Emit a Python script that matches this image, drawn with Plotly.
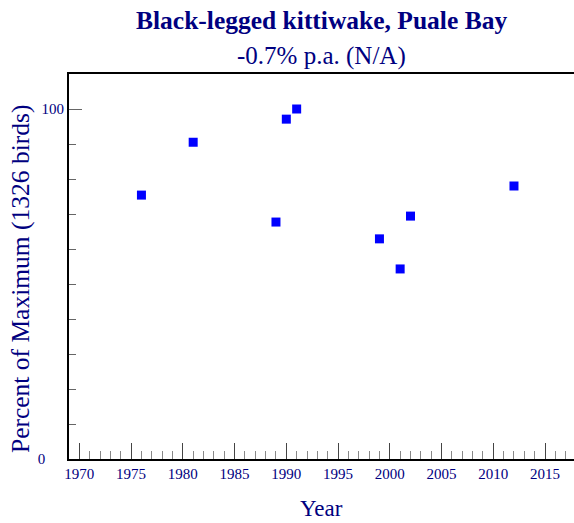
import plotly.graph_objects as go

years = [1976, 1981, 1989, 1990, 1991, 1999, 2001, 2002, 2012]
percent_of_max = [75.4, 90.5, 67.7, 97.1, 100.0, 62.9, 54.3, 69.4, 78.0]
title_text = "Black-legged kittiwake, Puale Bay"
subtitle_text = "-0.7% p.a. (N/A)"
y_title = "Percent of Maximum (1326 birds)"
x_title = "Year"
y_tickvals = [0, 100]
y_ticktext = ["0\u00a0\u00a0\u00a0\u00a0\u00a0", "100"]

NAVY = "#000080"
SERIF = "Liberation Serif, Times New Roman, serif"

fig = go.Figure()
fig.add_trace(go.Scatter(
    x=years, y=percent_of_max, mode="markers",
    marker=dict(symbol="square", size=9, color="#0000ff", line=dict(width=0)),
    showlegend=False, hoverinfo="x+y",
))

fig.update_layout(
    width=574, height=523,
    margin=dict(l=69, r=0, t=74, b=64),
    paper_bgcolor="white", plot_bgcolor="white",
    font=dict(family=SERIF, color=NAVY),
    xaxis=dict(
        range=[1969.0, 2017.8], showgrid=False, zeroline=False,
        showline=True, linecolor="black", linewidth=2, mirror=True,
        tickmode="linear", tick0=1970, dtick=5,
        ticks="inside", ticklen=16, tickwidth=1, tickcolor="#444",
        tickfont=dict(family=SERIF, size=15, color=NAVY),
        minor=dict(tickmode="linear", tick0=1970, dtick=1, ticks="inside",
                   ticklen=8, tickwidth=1, tickcolor="#888"),
    ),
    yaxis=dict(
        range=[0, 110], showgrid=False, zeroline=False,
        showline=True, linecolor="black", linewidth=2, mirror=False,
        tickmode="array", tickvals=y_tickvals, ticktext=y_ticktext,
        ticks="inside", ticklen=13, tickwidth=1, tickcolor="#666",
        tickfont=dict(family=SERIF, size=15, color=NAVY),
        minor=dict(tickmode="linear", tick0=0, dtick=10, ticks="inside",
                   ticklen=7, tickwidth=1, tickcolor="#666"),
    ),
    annotations=[
        dict(text="<b>" + title_text + "</b>", xref="paper", yref="paper",
             x=0.5, y=1.138, xanchor="center", yanchor="middle", showarrow=False,
             font=dict(family=SERIF, size=25.5, color=NAVY)),
        dict(text=subtitle_text, xref="paper", yref="paper",
             x=0.5, y=1.047, xanchor="center", yanchor="middle", showarrow=False,
             font=dict(family=SERIF, size=25, color=NAVY)),
        dict(text=y_title, xref="paper", yref="paper", textangle=-90,
             x=-0.097, y=0.4675, xanchor="center", yanchor="middle", showarrow=False,
             font=dict(family=SERIF, size=25.5, color=NAVY)),
        dict(text=x_title, xref="paper", yref="paper",
             x=0.5, y=-0.128, xanchor="center", yanchor="middle", showarrow=False,
             font=dict(family=SERIF, size=23, color=NAVY)),
    ],
)

fig.write_html("out.html")
